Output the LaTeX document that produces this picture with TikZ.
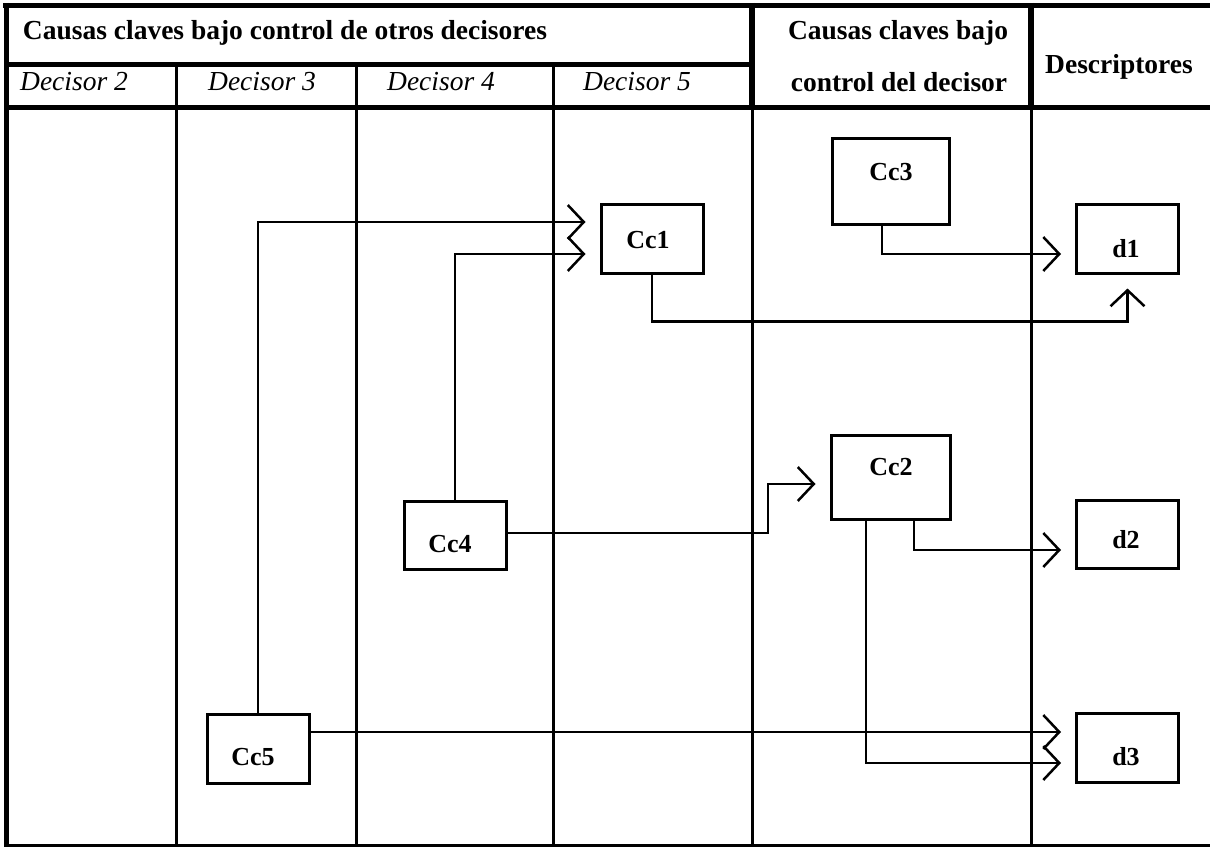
\documentclass[tikz,border=0pt]{standalone}
\usepackage{fontspec}
\setmainfont{Liberation Serif}
\usetikzlibrary{arrows.meta}
\tikzset{
  heavy/.style={line width=5pt},
  rule/.style={line width=3pt},
  hdr/.style={font=\fontsize{27.5}{30}\selectfont\bfseries, inner sep=0pt, anchor=center},
  dec/.style={font=\fontsize{27.5}{30}\selectfont\itshape, inner sep=0pt, anchor=center},
  boxnode/.style={draw, line width=3pt, inner sep=0pt},
  lbl/.style={font=\fontsize{26}{28}\selectfont\bfseries, inner sep=0pt, anchor=center},
  conn/.style={line width=2.5pt, -{Straight Barb[length=16pt,width=34pt]}, shorten >=14pt}
}
\begin{document}
\begin{tikzpicture}[x=1pt,y=-1pt]
\useasboundingbox (0,0) rectangle (1210,848);
% table frame
\draw[heavy] (3,5.5) -- (1210,5.5);
\draw[heavy] (6,3) -- (6,846);
\draw[line width=2.5pt] (4,845.5) -- (1210,845.5);
\draw[heavy] (6,65) -- (752,65);
\draw[heavy] (4,108) -- (1210,108);
\foreach \x in {176,356,553} \draw[rule] (\x,65) -- (\x,846);
\foreach \x in {752,1031} {
  \draw[line width=6pt] (\x,3) -- (\x,108);
  \draw[rule] (\x,108) -- (\x,846);
}
% headers
\node[hdr] (h1) at (285,33) {Causas claves bajo control de otros decisores};
\node[hdr] (h2) at (898,33) {Causas claves bajo};
\node[hdr] (h3) at (899,82) {control del decisor};
\node[hdr] (h4) at (1119,67) {Descriptores};
\node[dec] (d2h) at (74,82) {Decisor 2};
\node[dec] (d3h) at (262,82) {Decisor 3};
\node[dec] (d4h) at (441,82) {Decisor 4};
\node[dec] (d5h) at (637,82) {Decisor 5};
% boxes
\node[boxnode, minimum width=102pt, minimum height=69pt] (cc1) at (652,238.5) {};
\node[boxnode, minimum width=117pt, minimum height=85pt] (cc3) at (891,181.5) {};
\node[boxnode, minimum width=119pt, minimum height=84pt] (cc2) at (890.5,477) {};
\node[boxnode, minimum width=102pt, minimum height=68pt] (cc4) at (455,535) {};
\node[boxnode, minimum width=102pt, minimum height=69pt] (cc5) at (258,748.5) {};
\node[boxnode, minimum width=102pt, minimum height=69pt] (d1) at (1127.5,238.5) {};
\node[boxnode, minimum width=102pt, minimum height=68pt] (d2) at (1127.5,534) {};
\node[boxnode, minimum width=102pt, minimum height=69pt] (d3) at (1127.5,747.5) {};
% labels
\node[lbl] (t1) at (648,240) {Cc1};
\node[lbl] (t3) at (891,172) {Cc3};
\node[lbl] (t2) at (891,467) {Cc2};
\node[lbl] (t4) at (450,544) {Cc4};
\node[lbl] (t5) at (253,757) {Cc5};
\node[lbl] (td1) at (1126,249) {d1};
\node[lbl] (td2) at (1126,540) {d2};
\node[lbl] (td3) at (1126,757) {d3};
% connectors
\coordinate (bend) at (768,484);
\draw[conn] (cc5.north) |- ([yshift=16.5pt]cc1.west);
\draw[conn] (cc4.north) |- ([yshift=-15.5pt]cc1.west);
\draw[conn] (cc1.south) -- ++(0,47) -| (d1.south);
\draw[conn] ([xshift=-9pt]cc3.south) |- ([yshift=-15.5pt]d1.west);
\draw[conn] ([yshift=2pt]cc4.east) -| (bend) -- ([yshift=-7pt]cc2.west);
\draw[conn] ([xshift=23.5pt]cc2.south) |- ([yshift=-16pt]d2.west);
\draw[conn] ([xshift=-24.5pt]cc2.south) |- ([yshift=-15.5pt]d3.west);
\draw[conn] ([yshift=16.5pt]cc5.east) -- ([yshift=16.5pt]cc5.east -| d3.west);
\end{tikzpicture}
\end{document}
